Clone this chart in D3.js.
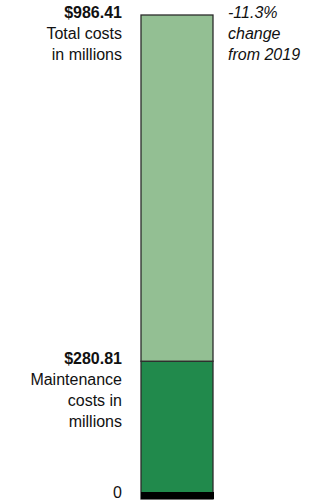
<!DOCTYPE html>
<html>
<head>
<meta charset="utf-8">
<script src="https://cdn.jsdelivr.net/npm/d3@7"></script>
<style>
  body { margin: 0; background: #fff; }
  svg text { font-family: "Liberation Sans", Arial, sans-serif; font-size: 16px; fill: #111; }
</style>
</head>
<body>
<div id="chart"></div>
<script>
// values in millions of dollars
const segments = ["Maintenance", "Other"];
const segmentValues = [280.81, 705.60];
const totalCost = 986.41;
const changeLabel = ["-11.3%", "change", "from 2019"];
const totalLabel = ["$986.41", "Total costs", "in millions"];
const maintLabel = ["$280.81", "Maintenance", "costs in", "millions"];
const segmentColors = ["#218a4c", "#93bf93"];

const width = 331, height = 504;

const svg = d3.select("#chart").append("svg")
    .attr("width", width)
    .attr("height", height);

const y = d3.scaleLinear()
    .domain([0, totalCost])
    .range([499, 15]);

const x = d3.scaleBand()
    .domain(["costs"])
    .range([141, 213]);

// stack the two segments
let start = 0;
const stacked = segmentValues.map((v, i) => {
    const d = { name: segments[i], y0: start, y1: start + v, color: segmentColors[i] };
    start += v;
    return d;
});

svg.selectAll("rect.seg")
    .data(stacked)
    .enter().append("rect")
    .attr("class", "seg")
    .attr("x", x("costs"))
    .attr("width", x.bandwidth())
    .attr("y", d => y(d.y1))
    .attr("height", d => y(d.y0) - y(d.y1))
    .attr("fill", d => d.color)
    .attr("stroke", "#2b2b2b")
    .attr("stroke-width", 1.3);

// thick baseline
svg.append("rect")
    .attr("x", x("costs"))
    .attr("width", x.bandwidth() + 1)
    .attr("y", y(0) - 7)
    .attr("height", 7)
    .attr("fill", "#000");

// left labels
const labelX = 122;
const lineH = 21;
function leftLabel(lines, value) {
    const t = svg.append("text")
        .attr("text-anchor", "end")
        .attr("y", y(value) + 3);
    lines.forEach((s, i) => {
        t.append("tspan")
            .attr("x", labelX)
            .attr("dy", i === 0 ? 0 : lineH)
            .attr("font-weight", i === 0 ? "bold" : "normal")
            .text(s);
    });
}
leftLabel(totalLabel, totalCost);
leftLabel(maintLabel, segmentValues[0]);

svg.append("text")
    .attr("text-anchor", "end")
    .attr("x", labelX)
    .attr("y", y(0) - 1)
    .text("0");

// change note
const note = svg.append("text")
    .attr("font-style", "italic")
    .attr("y", y(totalCost) + 3);
changeLabel.forEach((s, i) => {
    note.append("tspan")
        .attr("x", 228)
        .attr("dy", i === 0 ? 0 : lineH)
        .text(s);
});
</script>
</body>
</html>
